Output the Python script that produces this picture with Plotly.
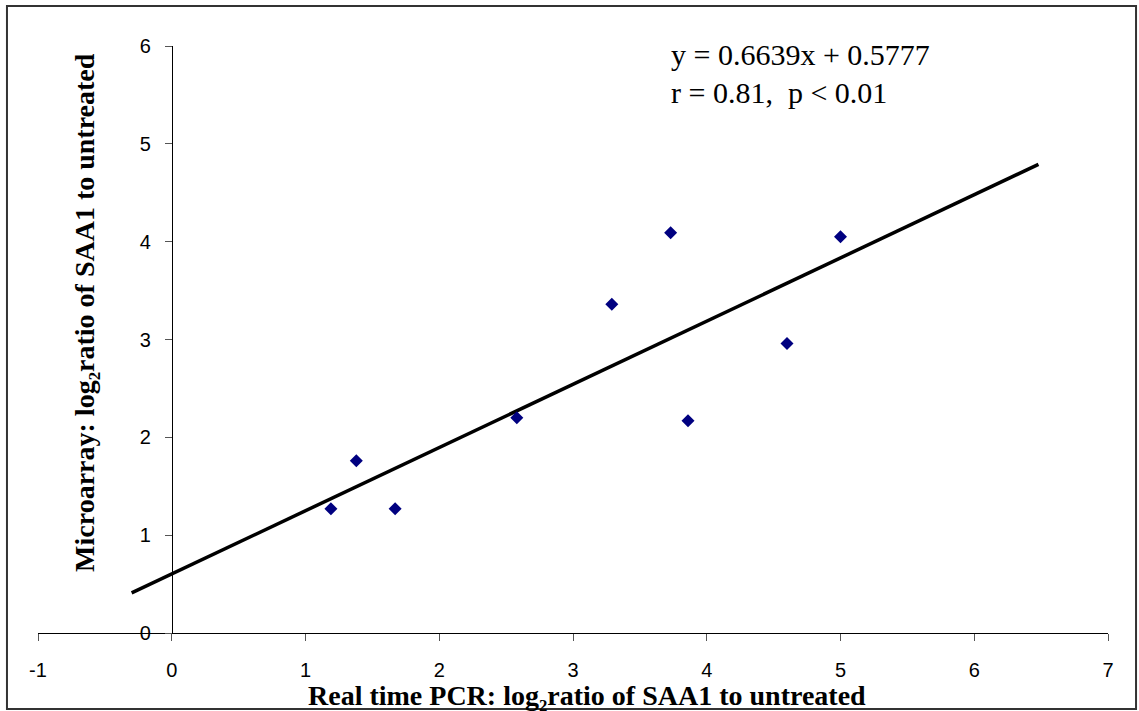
import plotly.graph_objects as go

# Data
pcr_x = [1.38, 1.19, 1.67, 2.58, 3.29, 3.73, 3.86, 4.60, 5.00]
array_y = [1.76, 1.27, 1.27, 2.20, 3.36, 4.09, 2.17, 2.96, 4.05]

trend_x = [-0.30, 6.48]
trend_y = [0.41, 4.79]

x_ticks = [-1, 0, 1, 2, 3, 4, 5, 6, 7]
x_ticktext = ["-1", "0", "1", "2", "3", "4", "5", "6", "7"]
y_ticks = [0, 1, 2, 3, 4, 5, 6]

eq_line1 = "y = 0.6639x + 0.5777"
eq_line2 = "r = 0.81,  p &lt; 0.01"
x_title = "Real time PCR: log\u2082ratio of SAA1 to untreated"
y_title = "Microarray: log\u2082ratio of SAA1 to untreated"

fig = go.Figure()
fig.add_trace(go.Scatter(
    x=trend_x, y=trend_y, mode="lines",
    line=dict(color="black", width=3.5), hoverinfo="skip", showlegend=False))
fig.add_trace(go.Scatter(
    x=pcr_x, y=array_y, mode="markers",
    marker=dict(symbol="diamond", size=10, color="#000080"),
    showlegend=False))

tickfont = dict(family="Liberation Sans", size=20, color="black")
titlefont = dict(family="Liberation Serif", size=28, color="black")
eqfont = dict(family="Liberation Serif", size=30, color="black")

fig.update_layout(
    width=1139, height=711, autosize=False,
    margin=dict(l=38, r=31, t=46, b=78),
    paper_bgcolor="white", plot_bgcolor="white",
    xaxis=dict(range=[-1, 7], tickvals=x_ticks, ticktext=x_ticktext,
               showgrid=False, zeroline=False,
               showline=True, linecolor="black", linewidth=1,
               ticks="outside", ticklen=7, tickcolor="#555555",
               tickfont=tickfont, ticklabelstandoff=12),
    yaxis=dict(range=[0, 6], tickvals=y_ticks, showgrid=False, zeroline=False,
               showline=True, linecolor="black", linewidth=1,
               anchor="free", position=0.125,
               ticks="outside", ticklen=7, tickcolor="#555555",
               tickfont=tickfont, ticklabelstandoff=10),
    annotations=[
        dict(text=eq_line1, xref="paper", yref="paper", x=0.590, y=0.9847,
             xanchor="left", yanchor="middle", showarrow=False, font=eqfont),
        dict(text=eq_line2, xref="paper", yref="paper", x=0.590, y=0.9216,
             xanchor="left", yanchor="middle", showarrow=False, font=eqfont),
        dict(text="<b>" + x_title + "</b>", xref="paper", yref="paper",
             x=0.513, y=-0.1065, xanchor="center", yanchor="middle",
             showarrow=False, font=titlefont),
        dict(text="<b>" + y_title + "</b>", xref="paper", yref="paper",
             x=0.0439, y=0.547, xanchor="center", yanchor="middle",
             textangle=-90, showarrow=False, font=titlefont),
    ],
    shapes=[
        dict(type="rect", xref="paper", yref="paper",
             x0=-0.0290, x1=1.0262, y0=-0.1295, y1=1.0681,
             line=dict(color="#333333", width=2), fillcolor="rgba(0,0,0,0)",
             layer="above"),
    ],
)

fig.write_html("out.html")
